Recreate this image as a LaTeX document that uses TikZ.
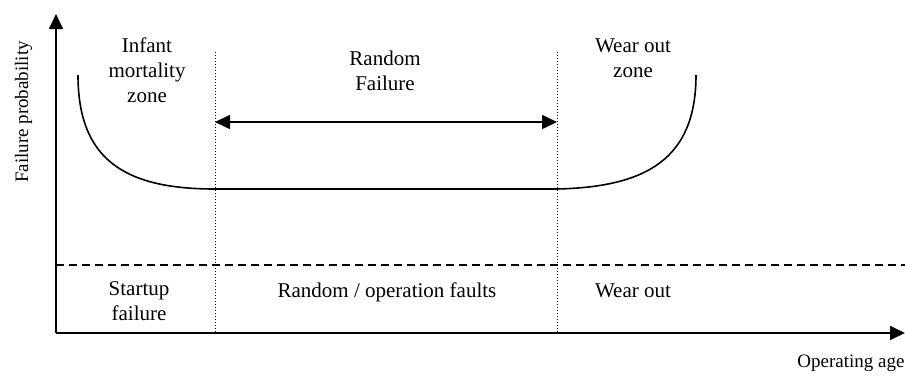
\documentclass[tikz,border=0pt]{standalone}
\usepackage{fontspec}
\setmainfont{Liberation Serif}
\usetikzlibrary{arrows.meta}
\begin{document}
\begin{tikzpicture}[x=1pt,y=-1pt,
  lbl/.style={align=center,inner sep=0pt,anchor=base,font=\fontsize{21}{25}\selectfont},
  axlbl/.style={inner sep=0pt,anchor=base,font=\fontsize{19}{23}\selectfont},
  axis/.style={line width=1.8pt,-{Triangle[length=15pt,width=14pt]}},
  curve/.style={line width=1.6pt},
  border/.style={line width=0.9pt,dash pattern=on 1.2pt off 1.8pt},
  level/.style={line width=1.3pt,dash pattern=on 8pt off 5pt},
  span/.style={line width=1.6pt,{Triangle[length=15pt,width=14pt]}-{Triangle[length=15pt,width=14pt]}}]
\useasboundingbox (0,0) rectangle (905,376);

% axes
\coordinate (origin) at (56,333);
\coordinate (ytip) at (56,14);
\coordinate (xtip) at (905,333);
\draw[axis] (origin) -- (ytip);
\draw[axis] (origin) -- (xtip);

% zone borders
\coordinate (b1top) at (215,52);
\coordinate (b1bot) at (215,333);
\coordinate (b2top) at (557,52);
\coordinate (b2bot) at (557,333);
\draw[border] (b1top) -- (b1bot);
\draw[border] (b2top) -- (b2bot);

% threshold between failure levels
\coordinate (lvlL) at (56,265);
\coordinate (lvlR) at (905,265);
\draw[level] (lvlL) -- (lvlR);

% bathtub curve
\coordinate (c0) at (78,75);
\coordinate (c1) at (215,189);
\coordinate (c2) at (557,189);
\coordinate (c3) at (696,75);
\draw[curve] (c0) .. controls (78,160) and (125,189) .. (c1)
  -- (c2) .. controls (645,187) and (696,160) .. (c3);

% random failure span
\coordinate (sL) at (215,122);
\coordinate (sR) at (557,122);
\draw[span] (sL) -- (sR);

% labels (anchored on the baseline of their last line)
\node[lbl] (infant) at (147,102) {Infant\\mortality\\zone};
\node[lbl] (random) at (385,90) {Random\\Failure};
\node[lbl] (wear) at (633,77) {Wear out\\zone};
\node[lbl] (startup) at (139,320) {Startup\\failure};
\node[lbl] (faults) at (387,297) {Random / operation faults};
\node[lbl] (wearout) at (633,297) {Wear out};
\node[axlbl,rotate=90] (yl) at (28,112) {Failure probability};
\node[axlbl] (xl) at (851,367) {Operating age};
\end{tikzpicture}
\end{document}
